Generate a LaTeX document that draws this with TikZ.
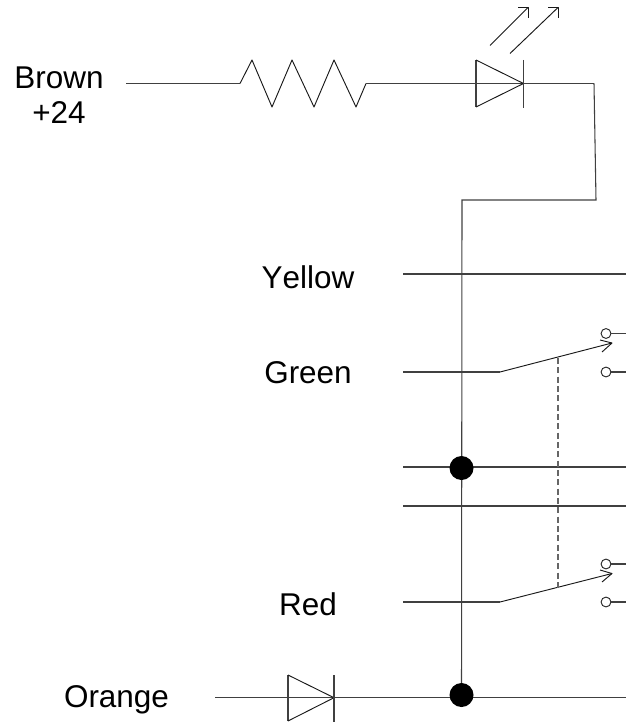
\documentclass[tikz,border=0pt]{standalone}
\usepackage{fontspec}
\setmainfont[Kerning=Off]{Liberation Sans}
\tikzset{
  wire/.style={line width=0.8pt,line join=miter,color=black!75},
  thin wire/.style={line width=0.7pt,line join=round,color=black!90},
  label/.style={inner sep=0pt,font=\fontsize{23.6pt}{28pt}\selectfont,align=center},
  junction/.style={circle,fill=black,draw=none,inner sep=0pt,minimum size=18pt},
  contact/.style={circle,draw=black!85,line width=0.7pt,fill=white,inner sep=0pt,minimum size=7.4pt},
  dashwire/.style={line width=0.8pt,color=black!60,dash pattern=on 4.5pt off 2.5pt},
}
\begin{document}
\begin{tikzpicture}[x=0.75pt,y=-0.75pt]
\useasboundingbox (0,0) rectangle (626,724);
% labels
\node[label] (brown) at (59,78) {Brown};
\node[label] (plus) at (59,113) {+24};
\node[label] (yellow) at (308,277) {Yellow};
\node[label] (green) at (308,373) {Green};
\node[label] (red) at (308,604) {Red};
\node[label] (orange) at (116.5,700) {Orange};
% coordinates
\coordinate (bs) at (126,83.5);
\coordinate (r1) at (240,83.5);
\coordinate (r2) at (366,83.5);
\coordinate (d1) at (476,83.5);
\coordinate (d2) at (523.5,83.5);
\coordinate (c1) at (594,83.5);
\coordinate (c2) at (596,200);
\coordinate (c3) at (462,200);
\coordinate (jb) at (461.5,695);
\coordinate (ys) at (403,274);
\coordinate (ye) at (626,274);
\coordinate (gs) at (403,372);
\coordinate (gk) at (500,372);
\coordinate (gt) at (612,343);
\coordinate (gd) at (558,358);
\coordinate (rs) at (403,602);
\coordinate (rk) at (500,602);
\coordinate (rt) at (612,573.5);
\coordinate (rd) at (558,588);
\coordinate (l1s) at (403,467);
\coordinate (l1e) at (626,467);
\coordinate (l2s) at (403,506);
\coordinate (l2e) at (626,506);
\coordinate (os) at (215,697.7);
\coordinate (oe) at (626,697.7);
\coordinate (od1) at (288,697.7);
\coordinate (od2) at (334,697.7);
% top row
\draw[wire] (bs) -- (r1);
\draw[thin wire] (r1) -- (252,60) -- (272,107) -- (292,60) -- (314,107) -- (334,60) -- (356,107) -- (r2);
\draw[wire] (r2) -- (d1) -- (d2) -- (c1);
\draw[wire] (d1 |- 0,60) -- (d1 |- 0,107);
\draw[thin wire] (d1 |- 0,60) -- (d2) -- (d1 |- 0,107);
\draw[wire] (d2 |- 0,60) -- (d2 |- 0,108);
\coordinate (a1s) at (490,45.5);
\coordinate (a1t) at (528,7.5);
\coordinate (a2s) at (510,53.5);
\coordinate (a2t) at (558,7.5);
\draw[thin wire] (a1s) -- (a1t);
\draw[thin wire] (518,7.5) -- (a1t) -- (528,18);
\draw[thin wire] (a2s) -- (a2t);
\draw[thin wire] (548,7.5) -- (a2t) -- (558,18);
\draw[wire] (c1) -- (c2) -- (c3) -- (jb);
% horizontals
\draw[wire] (ys) -- (ye);
\draw[wire] (l1s) -- (l1e);
\draw[wire] (l2s) -- (l2e);
\draw[wire] (os) -- (oe);
% orange diode
\draw[wire] (od1 |- 0,675) -- (od1 |- 0,721);
\draw[thin wire] (od1 |- 0,675) -- (od2) -- (od1 |- 0,721);
\draw[wire] (od2 |- 0,675) -- (od2 |- 0,722);
% junctions
\node[junction] (j1) at (461.5,468) {};
\node[junction] (j2) at (jb) {};
% green switch
\draw[wire] (gs) -- (gk);
\draw[thin wire] (gk) -- (gt);
\draw[thin wire] (600,340) -- (gt) -- (602,352);
\node[contact] (g1) at (606,333.5) {};
\node[contact] (g2) at (606,372) {};
\draw[wire] (g1) -- (626,333.5);
\draw[wire] (g2) -- (626,372);
% red switch
\draw[wire] (rs) -- (rk);
\draw[thin wire] (rk) -- (rt);
\draw[thin wire] (600,570) -- (rt) -- (602,582);
\node[contact] (r3) at (606,564) {};
\node[contact] (r4) at (606,602) {};
\draw[wire] (r3) -- (626,564);
\draw[wire] (r4) -- (626,602);
% ganged link
\draw[dashwire] (gd) -- (rd);
\end{tikzpicture}
\end{document}
